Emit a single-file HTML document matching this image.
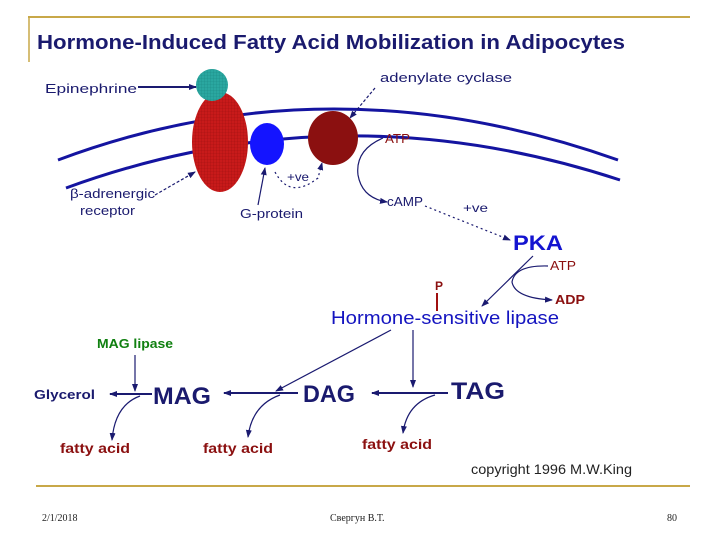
<!DOCTYPE html>
<html><head><meta charset="utf-8"><style>
body{margin:0;background:#fff;width:720px;height:540px;overflow:hidden}
svg{display:block}
.s{font-family:"Liberation Sans",sans-serif}
</style></head><body>
<svg width="720" height="540" viewBox="0 0 720 540" xmlns="http://www.w3.org/2000/svg">
<defs>
<marker id="a" markerWidth="8" markerHeight="8" refX="7" refY="4" orient="auto" markerUnits="userSpaceOnUse"><path d="M0,1 L8,4 L0,7 Z" fill="#1a1a70"/></marker>
<pattern id="g" width="3" height="3" patternUnits="userSpaceOnUse"><rect width="3" height="3" fill="#c81a1a"/><path d="M0,0H3M0,0V3" stroke="#a01010" stroke-width="0.6"/></pattern>
<pattern id="t" width="3" height="3" patternUnits="userSpaceOnUse"><rect width="3" height="3" fill="#2aa7a0"/><path d="M0,0H3M0,0V3" stroke="#1a8a85" stroke-width="0.6"/></pattern>
</defs>
<line x1="28" y1="17" x2="690" y2="17" stroke="#c8a848" stroke-width="2"/>
<line x1="29" y1="17" x2="29" y2="62" stroke="#c8a848" stroke-width="1.5"/>
<line x1="36" y1="486" x2="690" y2="486" stroke="#c8a848" stroke-width="2"/>
<text class="s" x="37" y="49" font-size="20" font-weight="bold" fill="#1a1a6e" textLength="588" lengthAdjust="spacingAndGlyphs">Hormone-Induced Fatty Acid Mobilization in Adipocytes</text>
<path d="M58,160 Q330,58 618,160" fill="none" stroke="#1414a0" stroke-width="3"/>
<path d="M66,188 Q340,88 620,180" fill="none" stroke="#1414a0" stroke-width="3"/>
<ellipse cx="220" cy="142" rx="28" ry="50" fill="url(#g)"/>
<circle cx="212" cy="85" r="16" fill="url(#t)"/>
<ellipse cx="267" cy="144" rx="17" ry="21" fill="#1414ff"/>
<ellipse cx="333" cy="138" rx="25" ry="27" fill="#8b1010"/>
<g class="s" font-size="13" lengthAdjust="spacingAndGlyphs">
<text x="45" y="93" fill="#1a1a6e" textLength="92" lengthAdjust="spacingAndGlyphs">Epinephrine</text>
<text x="380" y="82" fill="#1a1a6e" textLength="132" lengthAdjust="spacingAndGlyphs">adenylate cyclase</text>
<text x="385" y="143" fill="#8b1010" textLength="25" lengthAdjust="spacingAndGlyphs">ATP</text>
<text x="70" y="198" fill="#1a1a6e" font-size="13" textLength="85" lengthAdjust="spacingAndGlyphs">β-adrenergic</text>
<text x="80" y="215" fill="#1a1a6e" font-size="13" textLength="55" lengthAdjust="spacingAndGlyphs">receptor</text>
<text x="240" y="218" fill="#1a1a6e" font-size="13" textLength="63" lengthAdjust="spacingAndGlyphs">G-protein</text>
<text x="287" y="181" fill="#1a1a6e" font-size="12" textLength="22" lengthAdjust="spacingAndGlyphs">+ve</text>
<text x="387" y="206" fill="#1a1a6e" font-size="13" textLength="36" lengthAdjust="spacingAndGlyphs">cAMP</text>
<text x="463" y="212" fill="#1a1a6e" font-size="12" textLength="25" lengthAdjust="spacingAndGlyphs">+ve</text>
<text x="513" y="250" fill="#1414d0" font-size="21" font-weight="bold" textLength="50" lengthAdjust="spacingAndGlyphs">PKA</text>
<text x="550" y="270" fill="#8b1010" font-size="13" textLength="26" lengthAdjust="spacingAndGlyphs">ATP</text>
<text x="555" y="304" fill="#8b1010" font-size="13" font-weight="bold" textLength="30" lengthAdjust="spacingAndGlyphs">ADP</text>
<text x="435" y="290" fill="#8b1010" font-size="12" font-weight="bold">P</text>
<text x="331" y="324" fill="#1414c0" font-size="18" textLength="228" lengthAdjust="spacingAndGlyphs">Hormone-sensitive lipase</text>
<text x="97" y="348" fill="#108010" font-size="13" font-weight="bold" textLength="76" lengthAdjust="spacingAndGlyphs">MAG lipase</text>
<text x="34" y="399" fill="#1a1a6e" font-size="13" font-weight="bold" textLength="61" lengthAdjust="spacingAndGlyphs">Glycerol</text>
<text x="153" y="404" fill="#1a1a6e" font-size="24" font-weight="bold" textLength="58" lengthAdjust="spacingAndGlyphs">MAG</text>
<text x="303" y="402" fill="#1a1a6e" font-size="24" font-weight="bold" textLength="52" lengthAdjust="spacingAndGlyphs">DAG</text>
<text x="451" y="399" fill="#1a1a6e" font-size="24" font-weight="bold" textLength="54" lengthAdjust="spacingAndGlyphs">TAG</text>
<text x="60" y="453" fill="#8b1010" font-size="14" font-weight="bold" textLength="70" lengthAdjust="spacingAndGlyphs">fatty acid</text>
<text x="203" y="453" fill="#8b1010" font-size="14" font-weight="bold" textLength="70" lengthAdjust="spacingAndGlyphs">fatty acid</text>
<text x="362" y="449" fill="#8b1010" font-size="14" font-weight="bold" textLength="70" lengthAdjust="spacingAndGlyphs">fatty acid</text>
<text x="471" y="474" fill="#222" font-size="14" textLength="161" lengthAdjust="spacingAndGlyphs">copyright 1996 M.W.King</text>
</g>
<g stroke="#1a1a70" fill="none" stroke-width="1.2">
<line x1="138" y1="87" x2="196" y2="87" stroke-width="2" marker-end="url(#a)"/>
<line x1="375" y1="88" x2="350" y2="118" stroke-dasharray="3,2" marker-end="url(#a)"/>
<line x1="155" y1="195" x2="195" y2="172" stroke-dasharray="3,2" marker-end="url(#a)"/>
<line x1="258" y1="205" x2="265" y2="168" marker-end="url(#a)"/>
<path d="M275,172 Q290,200 318,178 L322,163" stroke-dasharray="2,3" marker-end="url(#a)"/>
<path d="M383,138 Q355,150 358,175 Q362,198 387,202" marker-end="url(#a)"/>
<line x1="425" y1="206" x2="510" y2="240" stroke-dasharray="2,3" marker-end="url(#a)"/>
<line x1="533" y1="256" x2="482" y2="306" marker-end="url(#a)"/>
<path d="M548,266 Q515,265 512,282 Q515,298 552,300" marker-end="url(#a)"/>
<line x1="391" y1="330" x2="276" y2="391" marker-end="url(#a)"/>
<line x1="413" y1="330" x2="413" y2="387" marker-end="url(#a)"/>
<line x1="135" y1="355" x2="135" y2="391" marker-end="url(#a)"/>
<line x1="152" y1="394" x2="110" y2="394" stroke-width="2" marker-end="url(#a)"/>
<line x1="298" y1="393" x2="224" y2="393" stroke-width="2" marker-end="url(#a)"/>
<line x1="448" y1="393" x2="372" y2="393" stroke-width="2" marker-end="url(#a)"/>
<path d="M140,396 Q115,405 112,440" marker-end="url(#a)"/>
<path d="M280,395 Q252,405 248,437" marker-end="url(#a)"/>
<path d="M435,395 Q407,403 403,433" marker-end="url(#a)"/>
</g>
<line x1="437" y1="293" x2="437" y2="311" stroke="#a01010" stroke-width="2"/>
<g font-family="'Liberation Serif',serif" font-size="10" fill="#222">
<text x="42" y="521">2/1/2018</text>
<text x="330" y="521">Свергун В.Т.</text>
<text x="667" y="521">80</text>
</g>
</svg>
</body></html>
